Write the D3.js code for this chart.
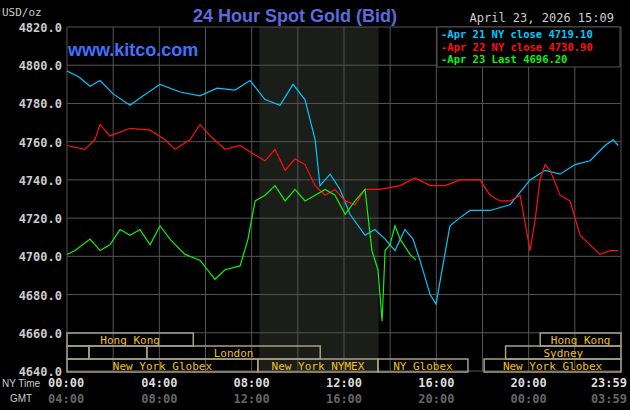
<!DOCTYPE html><html><head><meta charset="utf-8">
<script src="https://cdn.jsdelivr.net/npm/d3@7"></script>
<style>body{margin:0;background:#000}</style></head><body><svg id="c" width="630" height="410"></svg>
<script>
const yTicks=[4640,4660,4680,4700,4720,4740,4760,4780,4800,4820];
const nyLabels=["00:00","04:00","08:00","12:00","16:00","20:00","23:59"];
const gmtLabels=["04:00","08:00","12:00","16:00","20:00","00:00","03:59"];
const labelHours=[0,4,8,12,16,20,23.98];
const blueH=[0,0.5,1.0,1.43,2.0,2.73,3.3,4.03,4.9,5.76,6.5,7.28,7.93,8.58,9.23,9.79,10.31,10.75,10.96,11.4,11.83,12.26,12.91,13.34,13.78,14.21,14.64,14.99,15.29,15.73,15.99,16.25,16.59,17.0,17.46,18.33,19.19,20.06,20.71,21.36,22.01,22.66,23.31,23.66,23.88];
const blueV=[4797,4794,4789,4792,4785,4779,4784,4790,4786,4784,4788,4787,4792,4782,4779,4790,4782,4761,4737,4743,4735,4722,4711,4714,4709,4703,4714,4709,4698,4680,4675,4693,4716,4720,4724,4724,4727,4740,4745,4743,4748,4750,4758,4761,4758];
const redH=[0,0.78,1.21,1.43,1.86,2.73,3.6,4.25,4.68,5.33,5.76,6.2,6.85,7.5,8.15,8.58,9.01,9.45,9.88,10.31,10.75,11.18,11.61,12.05,12.48,12.91,13.56,14.43,15.08,15.73,16.38,17.03,17.89,18.33,18.76,19.19,19.63,20.06,20.28,20.49,20.71,20.93,21.36,21.79,22.23,22.66,23.09,23.53,23.88];
const redV=[4758,4756,4761,4769,4763,4767,4766,4761,4756,4761,4769,4763,4756,4758,4753,4750,4756,4745,4751,4748,4737,4732,4735,4729,4727,4735,4735,4737,4741,4737,4737,4740,4740,4732,4729,4729,4732,4703,4719,4740,4748,4745,4732,4729,4711,4706,4701,4703,4703];
const greenH=[0,0.35,1.0,1.43,1.86,2.3,2.73,3.16,3.6,4.03,4.46,5.11,5.76,6.41,6.85,7.5,7.84,8.15,8.58,9.01,9.45,9.88,10.31,10.75,11.18,11.61,12.05,12.48,12.91,13.21,13.47,13.65,13.78,13.99,14.21,14.43,14.86,15.12];
const greenV=[4701,4703,4709,4703,4706,4714,4711,4714,4706,4716,4709,4701,4698,4688,4693,4695,4709,4729,4732,4737,4729,4735,4729,4732,4735,4732,4722,4729,4735,4703,4693,4666,4703,4706,4716,4709,4701,4698];
const legend=[["Apr 21 NY close 4719.10","#00c8ff"],["Apr 22 NY close 4730.90","#ff1010"],["Apr 23 Last 4696.20","#10f010"]];
const sessions=[[0,0,5.47,"Hong Kong"],[0,20.5,24,"Hong Kong"],[1,0,0.95,""],[1,0.95,3.46,""],[1,3.46,10.97,"London"],[1,19.0,24,"Sydney"],[2,0,8.27,"New York Globex"],[2,8.27,13.47,"New York NYMEX"],[2,13.47,17.37,"NY Globex"],[2,18.07,24,"New York Globex"]];
const svg=d3.select("#c");
const x=d3.scaleLinear().domain([0,24]).range([67,621]);
const y=d3.scaleLinear().domain([4640,4820]).range([371,27]);
const F="'DejaVu Sans Mono',monospace";
svg.append("rect").attr("x",x(8.33)).attr("y",27).attr("width",x(13.5)-x(8.33)).attr("height",344).attr("fill","#1a1d18");
d3.range(0,25,2).forEach(h=>svg.append("line").attr("x1",x(h)).attr("x2",x(h)).attr("y1",27).attr("y2",371).attr("stroke","#555"));
yTicks.forEach(v=>svg.append("line").attr("x1",67).attr("x2",621).attr("y1",y(v)).attr("y2",y(v)).attr("stroke","#555"));
yTicks.forEach(v=>svg.append("text").attr("x",62).attr("y",y(v)+5).attr("text-anchor","end").attr("fill","#ccc").attr("font-family",F).attr("font-weight","bold").attr("font-size",12).text(v.toFixed(1)));
const rowY=[333,346,359];
sessions.forEach(s=>{svg.append("rect").attr("x",x(s[1])).attr("y",rowY[s[0]]).attr("width",x(s[2])-x(s[1])).attr("height",13).attr("fill","none").attr("stroke","#a8a080").attr("stroke-width",1.5);
 if(s[3])svg.append("text").attr("x",(x(s[1])+x(s[2]))/2).attr("y",rowY[s[0]]+11).attr("text-anchor","middle").attr("fill","#f0c020").attr("font-family",F).attr("font-size",11).text(s[3]);});
const line=d3.line().x(d=>x(d[0])).y(d=>y(d[1]));
[[blueH,blueV,"#00c8ff"],[redH,redV,"#ff1010"],[greenH,greenV,"#10f010"]].forEach(([h,v,c])=>svg.append("path").datum(h.map((t,i)=>[t,v[i]])).attr("d",line).attr("fill","none").attr("stroke",c).attr("stroke-width",1.2));
svg.append("text").attr("x",2).attr("y",16).attr("fill","#ccc").attr("font-family",F).attr("font-size",11).text("USD/oz");
svg.append("text").attr("x",295).attr("y",22).attr("text-anchor","middle").attr("fill","#5b6bdf").attr("font-family","'Liberation Sans',sans-serif").attr("font-weight","bold").attr("font-size",18).text("24 Hour Spot Gold (Bid)");
svg.append("text").attr("x",68).attr("y",56).attr("fill","#4070ff").attr("font-family","'Liberation Sans',sans-serif").attr("font-weight","bold").attr("font-size",18).text("www.kitco.com");
svg.append("text").attr("x",614).attr("y",22).attr("text-anchor","end").attr("fill","#ccc").attr("font-family",F).attr("font-size",12).text("April 23, 2026 15:09");
svg.append("rect").attr("x",437).attr("y",27).attr("width",183).attr("height",40).attr("fill","#000").attr("stroke","#555");
legend.forEach((l,i)=>svg.append("text").attr("x",441).attr("y",38+i*12.5).attr("fill",l[1]).attr("font-family",F).attr("font-weight","bold").attr("font-size",10.5).text("-"+l[0]));
svg.append("text").attr("x",2).attr("y",387).attr("fill","#ccc").attr("font-family","'Liberation Sans Narrow',sans-serif").attr("font-size",10).text("NY Time");
svg.append("text").attr("x",10).attr("y",402).attr("fill","#ccc").attr("font-family","'Liberation Sans Narrow',sans-serif").attr("font-size",10).text("GMT");
labelHours.forEach((h,i)=>{const a=i==0?"start":(i==6?"end":"middle");const xx=i==0?48:(i==6?627:x(h));
 svg.append("text").attr("x",xx).attr("y",387).attr("text-anchor",a).attr("fill","#ddd").attr("font-family",F).attr("font-weight","bold").attr("font-size",12).text(nyLabels[i]);
 svg.append("text").attr("x",xx).attr("y",403).attr("text-anchor",a).attr("fill","#666").attr("font-family",F).attr("font-weight","bold").attr("font-size",12).text(gmtLabels[i]);});
</script></body></html>
